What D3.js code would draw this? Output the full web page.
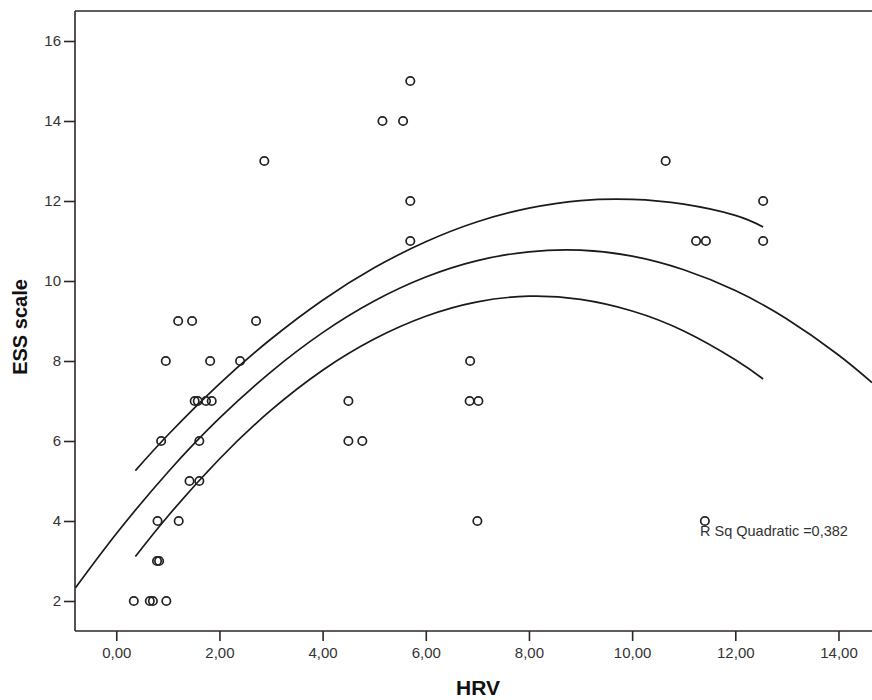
<!DOCTYPE html>
<html>
<head>
<meta charset="utf-8">
<script src="https://cdn.jsdelivr.net/npm/d3@7"></script>
<style>
  body { margin: 0; background: #fff; }
  svg { display: block; font-family: Arial, "Liberation Sans", sans-serif; }
</style>
</head>
<body>
<div id="chart"></div>
<script>
// scatter points: HRV (x) and ESS scale (y)
const hrv = [0.34, 0.65, 0.71, 0.97,
             0.79, 0.83,
             0.80, 1.21, 7.00, 11.41,
             1.42, 1.61,
             0.87, 1.61, 4.50, 4.77,
             1.52, 1.58, 1.74, 1.85, 4.50, 6.85, 7.02,
             0.96, 1.82, 2.40, 6.86,
             1.20, 1.47, 2.71,
             5.70, 11.24, 11.43, 12.54,
             5.70, 12.54,
             2.87, 10.65,
             5.16, 5.56,
             5.70];
const ess = [2, 2, 2, 2,
             3, 3,
             4, 4, 4, 4,
             5, 5,
             6, 6, 6, 6,
             7, 7, 7, 7, 7, 7, 7,
             8, 8, 8, 8,
             9, 9, 9,
             11, 11, 11, 11,
             12, 12,
             13, 13,
             14, 14,
             15];

// quadratic fit line and its confidence bounds
const fitX = [-0.79, 0, 1, 2, 3, 4, 5, 6, 7, 8, 9, 10, 11, 12, 13, 14, 14.65];
const fitY = [2.33, 3.68, 5.22, 6.57, 7.73, 8.71, 9.50, 10.10, 10.51, 10.73, 10.77, 10.62, 10.28, 9.76, 9.05, 8.15, 7.46];
const bandX = [0.37, 1, 2, 3, 4, 5, 6, 7, 8, 9, 10, 11, 12, 12.54];
const upperY = [5.26, 6.15, 7.43, 8.55, 9.52, 10.33, 10.98, 11.48, 11.82, 12.01, 12.04, 11.92, 11.64, 11.35];
const lowerY = [3.11, 4.12, 5.55, 6.77, 7.77, 8.55, 9.12, 9.48, 9.62, 9.54, 9.25, 8.75, 8.03, 7.55];

const xTicks = [0, 2, 4, 6, 8, 10, 12, 14];
const xTickLabels = ["0,00", "2,00", "4,00", "6,00", "8,00", "10,00", "12,00", "14,00"];
const yTicks = [2, 4, 6, 8, 10, 12, 14, 16];
const yTickLabels = ["2", "4", "6", "8", "10", "12", "14", "16"];

const rSqText = "R Sq Quadratic =0,382";

const w = 872, h = 700;
const pLeft = 75, pRight = 872, pTop = 11, pBottom = 631;
const ink = "#2e2626";

const svg = d3.select("#chart").append("svg").attr("width", w).attr("height", h);

const x = d3.scaleLinear().domain([-0.8, 14.65]).range([pLeft, pRight]);
const y = d3.scaleLinear().domain([1.25, 16.75]).range([pBottom, pTop]);

svg.append("defs").append("clipPath").attr("id", "plot")
  .append("rect").attr("x", pLeft).attr("y", pTop).attr("width", pRight - pLeft).attr("height", pBottom - pTop);

// frame: top border line
svg.append("line").attr("x1", pLeft).attr("x2", pRight).attr("y1", pTop).attr("y2", pTop)
  .attr("stroke", ink).attr("stroke-width", 1.4);

// axes
const xAxis = d3.axisBottom(x).tickValues(xTicks).tickSize(10).tickPadding(6)
  .tickFormat((d, i) => xTickLabels[i]);
const gx = svg.append("g").attr("transform", `translate(0, ${pBottom})`).call(xAxis);
gx.select(".domain").attr("d", `M${pLeft},0H${pRight}`);

const yAxis = d3.axisLeft(y).tickValues(yTicks).tickSize(11).tickPadding(3)
  .tickFormat((d, i) => yTickLabels[i]);
const gy = svg.append("g").attr("transform", `translate(${pLeft}, 0)`).call(yAxis);
gy.select(".domain").attr("d", `M0,${pTop}V${pBottom}`);

[gx, gy].forEach(g => {
  g.select(".domain").attr("stroke", ink).attr("stroke-width", 1.6);
  g.selectAll(".tick line").attr("stroke", ink).attr("stroke-width", 1.6);
  g.selectAll(".tick text").attr("fill", "#333").style("font-size", "15px")
    .style("font-family", "Arial, 'Liberation Sans', sans-serif");
});

// axis titles
svg.append("text").attr("x", 478).attr("y", 695).attr("text-anchor", "middle")
  .attr("font-weight", "bold").attr("font-size", 21).attr("fill", "#111").text("HRV");
svg.append("text").attr("transform", "translate(27, 327) rotate(-90)").attr("text-anchor", "middle")
  .attr("font-weight", "bold").attr("font-size", 20).attr("fill", "#111").text("ESS scale");

// curves
const plot = svg.append("g").attr("clip-path", "url(#plot)");
const line = d3.line().x(d => x(d[0])).y(d => y(d[1])).curve(d3.curveNatural);

[[fitX, fitY], [bandX, upperY], [bandX, lowerY]].forEach(([xs, ys]) => {
  plot.append("path").datum(xs.map((v, i) => [v, ys[i]]))
    .attr("d", line).attr("fill", "none").attr("stroke", "#1a1a1a").attr("stroke-width", 1.7);
});

// points
plot.selectAll("circle").data(hrv).enter().append("circle")
  .attr("cx", (d) => x(d)).attr("cy", (d, i) => y(ess[i])).attr("r", 4.2)
  .attr("fill", "none").attr("stroke", "#222").attr("stroke-width", 1.7);

// R squared annotation
svg.append("text").attr("x", 700).attr("y", 536).attr("font-size", 14.5).attr("fill", "#333").text(rSqText);
</script>
</body>
</html>
